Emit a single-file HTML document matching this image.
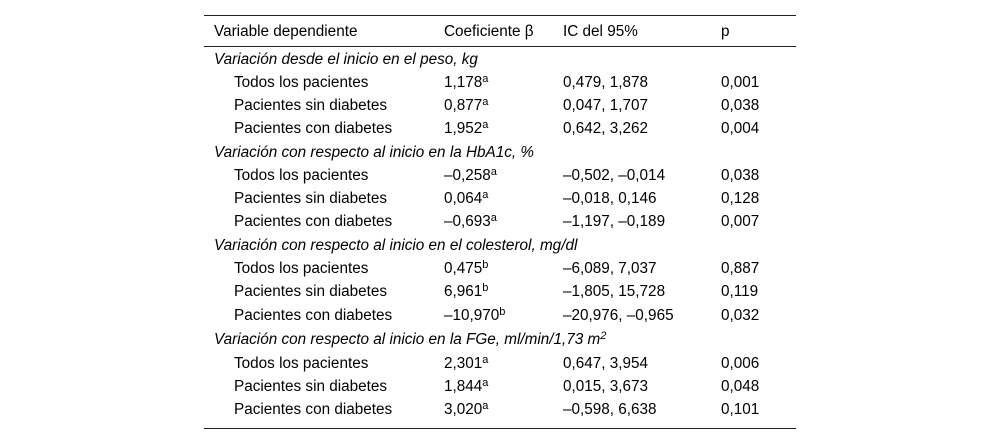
<!DOCTYPE html>
<html><head><meta charset="utf-8"><style>
body{margin:0;width:1000px;height:444px;background:#fff;position:relative;font-family:"Liberation Sans",sans-serif;font-size:15.3px;color:#000}
.l{position:absolute;left:204px;width:592px;height:1px;background:#222}
.r{position:absolute;left:0;width:1000px;height:18px;line-height:18px}
.r span{position:absolute;white-space:nowrap}
.c0{left:214px}.c0i{left:234px}.c1{left:444px}.c2{left:563px}.c3{left:721px}
i{font-style:italic}
sup{font-size:11px;line-height:0;vertical-align:5px}
</style></head><body>
<div class="l" style="top:15px"></div>
<div class="l" style="top:46px"></div>
<div class="l" style="top:428px"></div>
<div class="r" style="top:23px"><span class="c0">Variable dependiente</span><span class="c1">Coeficiente β</span><span class="c2">IC del 95%</span><span class="c3">p</span></div>
<div class="r" style="top:51px"><span class="c0"><i>Variación desde el inicio en el peso, kg</i></span></div>
<div class="r" style="top:74px"><span class="c0i">Todos los pacientes</span><span class="c1">1,178<sup>a</sup></span><span class="c2">0,479, 1,878</span><span class="c3">0,001</span></div>
<div class="r" style="top:97px"><span class="c0i">Pacientes sin diabetes</span><span class="c1">0,877<sup>a</sup></span><span class="c2">0,047, 1,707</span><span class="c3">0,038</span></div>
<div class="r" style="top:120px"><span class="c0i">Pacientes con diabetes</span><span class="c1">1,952<sup>a</sup></span><span class="c2">0,642, 3,262</span><span class="c3">0,004</span></div>
<div class="r" style="top:144px"><span class="c0"><i>Variación con respecto al inicio en la HbA1c, %</i></span></div>
<div class="r" style="top:167px"><span class="c0i">Todos los pacientes</span><span class="c1">–0,258<sup>a</sup></span><span class="c2">–0,502, –0,014</span><span class="c3">0,038</span></div>
<div class="r" style="top:190px"><span class="c0i">Pacientes sin diabetes</span><span class="c1">0,064<sup>a</sup></span><span class="c2">–0,018, 0,146</span><span class="c3">0,128</span></div>
<div class="r" style="top:213px"><span class="c0i">Pacientes con diabetes</span><span class="c1">–0,693<sup>a</sup></span><span class="c2">–1,197, –0,189</span><span class="c3">0,007</span></div>
<div class="r" style="top:237px"><span class="c0"><i>Variación con respecto al inicio en el colesterol, mg/dl</i></span></div>
<div class="r" style="top:260px"><span class="c0i">Todos los pacientes</span><span class="c1">0,475<sup>b</sup></span><span class="c2">–6,089, 7,037</span><span class="c3">0,887</span></div>
<div class="r" style="top:283px"><span class="c0i">Pacientes sin diabetes</span><span class="c1">6,961<sup>b</sup></span><span class="c2">–1,805, 15,728</span><span class="c3">0,119</span></div>
<div class="r" style="top:307px"><span class="c0i">Pacientes con diabetes</span><span class="c1">–10,970<sup>b</sup></span><span class="c2">–20,976, –0,965</span><span class="c3">0,032</span></div>
<div class="r" style="top:331px"><span class="c0"><i>Variación con respecto al inicio en la FGe, ml/min/1,73 m<sup>2</sup></i></span></div>
<div class="r" style="top:355px"><span class="c0i">Todos los pacientes</span><span class="c1">2,301<sup>a</sup></span><span class="c2">0,647, 3,954</span><span class="c3">0,006</span></div>
<div class="r" style="top:378px"><span class="c0i">Pacientes sin diabetes</span><span class="c1">1,844<sup>a</sup></span><span class="c2">0,015, 3,673</span><span class="c3">0,048</span></div>
<div class="r" style="top:401px"><span class="c0i">Pacientes con diabetes</span><span class="c1">3,020<sup>a</sup></span><span class="c2">–0,598, 6,638</span><span class="c3">0,101</span></div>
</body></html>
